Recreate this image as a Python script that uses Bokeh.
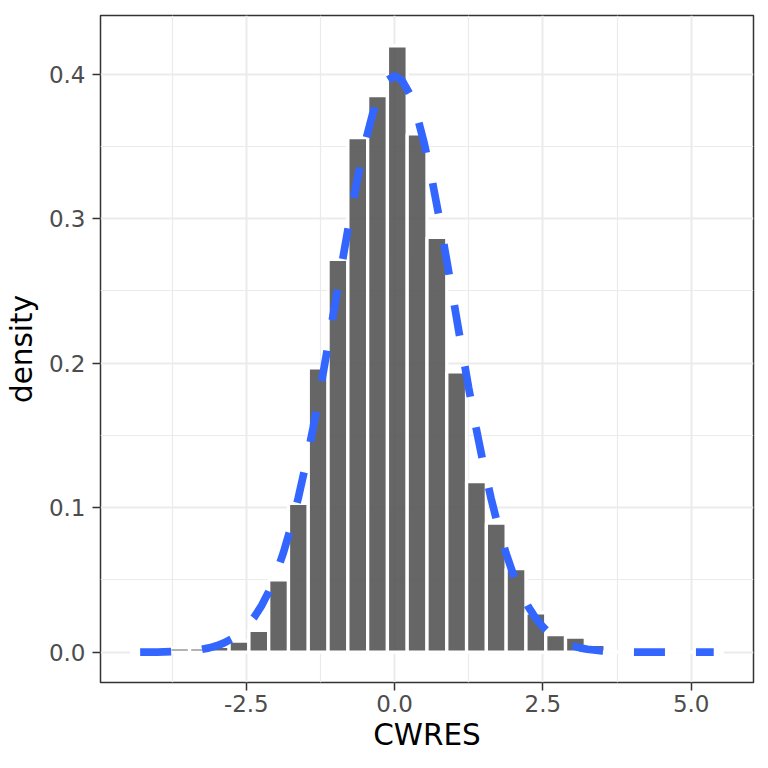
import numpy as np
from bokeh.plotting import figure
from bokeh.models import Range1d, FixedTicker, ColumnDataSource
from bokeh.embed import file_html
from bokeh.resources import INLINE

# ---- data ----
bin_start = -4.458
bin_width = 0.3336
density = [0, 0, 0.003, 0.003, 0.004,
           0.0077, 0.0151, 0.0501, 0.1031, 0.1968,
           0.2719, 0.3561, 0.3852, 0.4197, 0.3588,
           0.2871, 0.1940, 0.1181, 0.0894, 0.0579,
           0.0273, 0.0121, 0.0105, 0.0054, 0,
           0, 0, 0, 0, 0]

curve_x = [-4.29, -4.0, -3.75, -3.5, -3.25, -3.125, -3.0, -2.875, -2.75, -2.625, -2.5,
           -2.375, -2.25, -2.125, -2.0, -1.875, -1.75, -1.625, -1.5, -1.375, -1.25,
           -1.125, -1.0, -0.875, -0.75, -0.625, -0.5, -0.375, -0.25, -0.125, 0.0,
           0.125, 0.25, 0.375, 0.5, 0.625, 0.75, 0.875, 1.0, 1.125, 1.25,
           1.375, 1.5, 1.625, 1.75, 1.875, 2.0, 2.125, 2.25, 2.375, 2.5,
           2.625, 2.75, 2.875, 3.0, 3.125, 3.25, 3.5, 3.75, 4.0, 4.25,
           4.5, 4.75, 5.0, 5.25, 5.38]
curve_y = [0.0000, 0.0001, 0.0004, 0.0009, 0.0020, 0.0030, 0.0044, 0.0064, 0.0091, 0.0127, 0.0175,
           0.0238, 0.0317, 0.0417, 0.0540, 0.0688, 0.0863, 0.1066, 0.1295, 0.1550, 0.1826,
           0.2119, 0.2420, 0.2720, 0.3011, 0.3282, 0.3521, 0.3719, 0.3867, 0.3958, 0.3989,
           0.3958, 0.3867, 0.3719, 0.3521, 0.3282, 0.3011, 0.2720, 0.2420, 0.2119, 0.1826,
           0.1550, 0.1295, 0.1066, 0.0863, 0.0688, 0.0540, 0.0417, 0.0317, 0.0238, 0.0175,
           0.0127, 0.0091, 0.0064, 0.0044, 0.0030, 0.0020, 0.0009, 0.0004, 0.0001, 0.0000,
           0.0000, 0.0000, 0.0000, 0.0000, 0.0000]

x_ticks = [-2.5, 0.0, 2.5, 5.0]
x_tick_labels = ["-2.5", "0.0", "2.5", "5.0"]
x_minor = [-3.75, -1.25, 1.25, 3.75]
y_ticks = [0.0, 0.1, 0.2, 0.3, 0.4]
y_tick_labels = ["0.0", "0.1", "0.2", "0.3", "0.4"]
y_minor = [0.05, 0.15, 0.25, 0.35]

# ---- build ----
n = len(density)
lefts = bin_start + bin_width * np.arange(n)
rights = lefts + bin_width
bars = ColumnDataSource(dict(left=lefts, right=rights, top=density, bottom=[0] * n))
curve = ColumnDataSource(dict(x=curve_x, y=curve_y))

x_lo, x_hi = lefts[0], rights[-1]
xpad = 0.05 * (x_hi - x_lo)
ymax = max(density)
ypad = 0.05 * ymax

p = figure(width=760, height=760, output_backend="svg", toolbar_location=None,
           x_range=Range1d(x_lo - xpad, x_hi + xpad),
           y_range=Range1d(-ypad, ymax + ypad),
           min_border_left=100, min_border_right=7, min_border_top=15, min_border_bottom=78)

p.background_fill_color = "white"
p.border_fill_color = "white"
p.outline_line_color = "#333333"
p.outline_line_width = 1.5

p.quad(left="left", right="right", top="top", bottom="bottom", source=bars,
       fill_color="#555555", fill_alpha=0.9, line_color="white", line_width=3.3)
p.line(x="x", y="y", source=curve, line_color="#3366FF", line_width=7.7,
       line_dash="31 31", line_cap="butt")

p.xaxis.ticker = FixedTicker(ticks=x_ticks, minor_ticks=x_minor)
p.yaxis.ticker = FixedTicker(ticks=y_ticks, minor_ticks=y_minor)
p.xaxis.major_label_overrides = {t: l for t, l in zip(x_ticks, x_tick_labels)}
p.yaxis.major_label_overrides = {t: l for t, l in zip(y_ticks, y_tick_labels)}

for g in (p.xgrid, p.ygrid):
    g.grid_line_color = "#EBEBEB"
    g.grid_line_width = 2
    g.minor_grid_line_color = "#EBEBEB"
    g.minor_grid_line_width = 1.2

for ax in (p.xaxis, p.yaxis):
    ax.axis_line_color = None
    ax.minor_tick_line_color = None
    ax.major_tick_line_color = "#333333"
    ax.major_tick_line_width = 1.5
    ax.major_tick_out = 8
    ax.major_tick_in = 0
    ax.major_label_text_font = "DejaVu Sans"
    ax.major_label_text_font_size = "23px"
    ax.major_label_text_color = "#4D4D4D"
    ax.axis_label_text_font = "DejaVu Sans"
    ax.axis_label_text_font_size = "29.5px"
    ax.axis_label_text_font_style = "normal"
    ax.axis_label_text_color = "black"

p.xaxis.axis_label = "CWRES"
p.yaxis.axis_label = "density"
p.xaxis.major_label_standoff = 4
p.yaxis.major_label_standoff = 7
p.xaxis.axis_label_standoff = 3
p.yaxis.axis_label_standoff = 7

open("out.html", "w").write(file_html(p, INLINE))
